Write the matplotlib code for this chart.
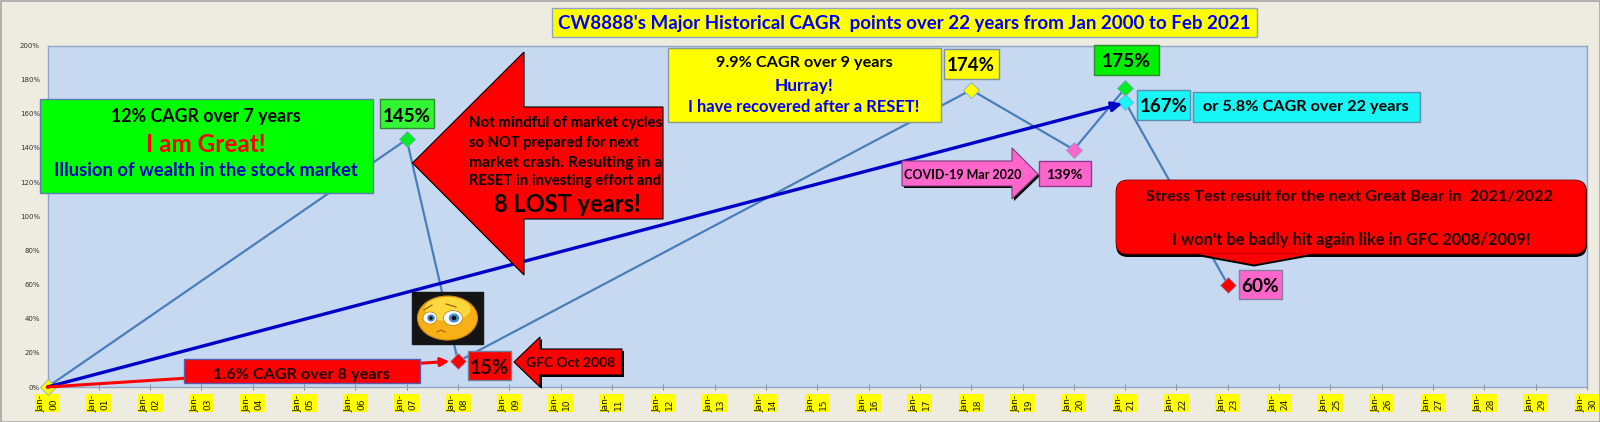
import matplotlib
matplotlib.use("Agg")
import matplotlib.pyplot as plt
from matplotlib.patches import Rectangle, Polygon, FancyBboxPatch, Ellipse
from matplotlib.textpath import TextPath
from matplotlib.font_manager import FontProperties

# ---- data ----
point_years = [0, 7, 8, 18, 20, 21, 21, 23]
point_values = [0, 145, 15, 174, 139, 175, 167, 60]
point_colors = ["#FFFF00", "#00EE22", "#FF0000", "#FFFF00", "#FF66CC", "#00EE22", "#17F5F5", "#FF0000"]
year_ticks = list(range(0, 31))
value_ticks = list(range(0, 201, 20))
title_text = "CW8888's Major Historical CAGR  points over 22 years from Jan 2000 to Feb 2021"

BG = "#EEECE1"
PLOT = "#C6D9F1"
W, H = 1600, 422
L, R, T, B = 47.5, 1587, 45.5, 387

fig = plt.figure(figsize=(W / 100, H / 100), dpi=100, facecolor=BG)
ax = fig.add_axes([L / W, 1 - B / H, (R - L) / W, (B - T) / H], facecolor=PLOT)
ax.set_xlim(0, 30)
ax.set_ylim(0, 200)
for s in ax.spines.values():
    s.set_color("#8FA6C8")
    s.set_linewidth(1.0)
ax.set_yticks(value_ticks)
ax.set_yticklabels([f"{v}%" for v in value_ticks], fontsize=5, color="#333333")
ax.tick_params(axis="y", length=0, pad=5.5)
ax.set_xticks(year_ticks)
ax.set_xticklabels([f"Jan-\n{y:02d}" for y in year_ticks], rotation=90, fontsize=6.5,
                   linespacing=1.45, color="#111111", ha="center", va="top",
                   multialignment="center")
ax.tick_params(axis="x", length=5, direction="inout", color="#8A8A8A", width=0.7, pad=3.5)

ax.plot(point_years, point_values, color="#4A7EBB", lw=1.6, zorder=3)
for xv, yv, c in zip(point_years, point_values, point_colors):
    ax.plot([xv], [yv], marker="D", ms=8.5, mfc=c, mec="#7FA0C8", mew=0.5, ls="none",
            clip_on=False, zorder=4)

ax.annotate("", xy=(point_years[6] - 0.05, point_values[6] - 1), xytext=(point_years[0], point_values[0]),
            arrowprops=dict(arrowstyle="-|>,head_length=0.6,head_width=0.28", color="#0000C8", lw=2.4,
                            shrinkA=0, shrinkB=0), zorder=5, annotation_clip=False)
ax.annotate("", xy=(point_years[2] - 0.17, point_values[2]), xytext=(point_years[0], point_values[0]),
            arrowprops=dict(arrowstyle="-|>,head_length=0.5,head_width=0.25", color="#FF0000", lw=2.2,
                            shrinkA=0, shrinkB=0), zorder=5, annotation_clip=False)

# yellow plates behind the x tick labels
for y in year_ticks:
    px = ax.transData.transform((y, 0))[0]
    fig.add_artist(Rectangle((px - 12.5, H - 412), 25, 18, fc="#FFFF00", ec="none",
                             transform=None, zorder=-1))

# overlay in pixel units for the drawn shapes and callouts
ov = fig.add_axes([0, 0, 1, 1], facecolor="none")
ov.set_xlim(0, W)
ov.set_ylim(H, 0)
ov.axis("off")
ov.add_patch(Rectangle((0.5, 0.5), W - 1, H - 1, fill=False, ec="#A6A6A6", lw=1.2))


def fit(text, width, weight):
    fp = FontProperties(family="Lato", weight=weight)
    bb = TextPath((0, 0), text, size=10, prop=fp).get_extents()
    return 10 * width / bb.width * 72 / 100


def label(xc, yc, text, width, color="black", weight="bold", ha="center", z=8):
    ov.text(xc, yc, text, ha=ha, va="center_baseline", color=color, family="Lato", weight=weight,
            fontsize=fit(text, width, weight), zorder=z)


def box(x0, x1, y0, y1, fc, ec="#6F8FB5", lw=1.0, z=6):
    ov.add_patch(Rectangle((x0, y0), x1 - x0, y1 - y0, fc=fc, ec=ec, lw=lw, zorder=z))


def poly(pts, fc, ec="black", lw=0.8, shadow=False, z=6):
    if shadow:
        ov.add_patch(Polygon([(x + 2, y + 2) for x, y in pts], fc="black", ec="none", zorder=z))
    ov.add_patch(Polygon(pts, fc=fc, ec=ec, lw=lw, zorder=z))


# title
box(552, 1257, 8, 37, "#FFFF00", ec="#8FA6C8")
label(904, 22.5, title_text, 693, "#0000FF")

# green panel
box(40, 372.5, 99, 193, "#00FF00", ec="#5B7FB0")
label(206, 115, "12% CAGR over 7 years", 187)
label(206, 142, "I am Great!", 116, "#FF0000")
label(206, 169, "Illusion of wealth in the stock market", 301, "#0000C0")
box(380, 433.5, 99, 128, "#33F533", ec="#2E8B2E")
label(407, 114.5, "145%", 46)

# big red arrow
poly([(412.5, 163), (524, 52), (524, 107), (663, 107), (663, 219), (524, 219), (524, 275)], "#FF0000")
label(469, 122, "Not mindful of market cycles", 192, ha="left")
label(469, 141, "so NOT prepared for next", 169, ha="left")
label(469, 161, "market crash. Resulting in a", 190, ha="left")
label(469, 180, "RESET in investing effort and", 190, ha="left")
label(567, 203, "8 LOST years!", 144)

# yellow panel
box(668, 941, 48, 122, "#FFFF00", ec="#8C9A8C")
label(804, 62, "9.9% CAGR over 9 years", 176)
label(804, 85, "Hurray!", 56, "#0000FF")
label(804, 106, "I have recovered after a RESET!", 230, "#0000FF")
box(944, 999, 49, 79, "#FFFF00", ec="#7F8FA0")
label(971, 64, "174%", 46)
box(1094, 1159, 45, 75, "#00F000", ec="#2E8B2E")
label(1126, 60, "175%", 47)

# covid arrow
poly([(902, 161), (1012, 161), (1012, 148), (1038, 174), (1012, 199), (1012, 186), (902, 186)],
     "#FF66CC", ec="#7A3A7A", shadow=True)
label(963, 174, "COVID-19 Mar 2020", 117)
box(1039, 1091, 161, 186, "#FF66CC", ec="#8A3A8A")
label(1064, 174, "139%", 35)

# cyan
box(1137, 1190, 90, 120, "#17F5F5", ec="#5A8FB0")
label(1163.5, 105, "167%", 46)
box(1193, 1420, 92, 122, "#17F5F5", ec="#5A8FB0")
label(1306, 106, "or 5.8% CAGR over 22 years", 205)

# callout
ov.add_patch(FancyBboxPatch((1128, 192), 447, 53, boxstyle="round,pad=12,rounding_size=12",
                            fc="black", ec="none", zorder=6))
ov.add_patch(FancyBboxPatch((1126, 190), 450, 54, boxstyle="round,pad=10,rounding_size=12",
                            fc="#FF0000", ec="#8B0000", lw=0.6, zorder=6))
poly([(1197, 254), (1254, 265), (1312, 254)], "#FF0000", ec="none", z=6)
ov.plot([1197, 1254, 1312], [255, 265.5, 255], color="black", lw=1.4, zorder=6)
label(1350, 195, "Stress Test result for the next Great Bear in  2021/2022", 408, "#200000")
label(1351, 239, "I won't be badly hit again like in GFC 2008/2009!", 359, "#200000")
box(1239, 1282, 270, 299, "#FF66CC", ec="#7F7FA0")
label(1260, 285, "60%", 36)

# bottom-left notes
box(184, 420, 359, 383, "#FF0000", ec="#5B5BB0")
label(301, 373, "1.6% CAGR over 8 years", 176, "#200000")
box(468, 511, 351, 380, "#FF0000", ec="#6F7FA0")
label(489, 366, "15%", 37, "#200000")
poly([(514, 362), (540, 337), (540, 349), (622, 349), (622, 375), (540, 375), (540, 387)],
     "#FF0000", ec="black", shadow=True)
label(571, 362, "GFC Oct 2008", 88, "#200000")

# sad face
box(412, 483, 292, 344, "#141414", ec="#141414", z=6)
ov.add_patch(Ellipse((447.5, 318), 60, 44, fc="#F7B016", ec="#D08A10", lw=0.8, zorder=7))
ov.add_patch(Ellipse((447.5, 309), 46, 24, fc="#FFD93B", ec="none", zorder=7))
for cx, w_, h_ in [(430, 14, 12), (453, 19, 15)]:
    ov.add_patch(Ellipse((cx, 318), w_, h_, fc="white", ec="#B07A20", lw=0.5, zorder=8))
    ov.add_patch(Ellipse((cx + 1, 318), w_ * 0.55, h_ * 0.6, fc="#3F8FD0", ec="none", zorder=8))
    ov.add_patch(Ellipse((cx + 1, 318), w_ * 0.25, h_ * 0.3, fc="#111111", ec="none", zorder=8))
ov.plot([437, 441, 445], [332, 330, 332], color="#A0601A", lw=0.8, zorder=8)
ov.plot([424, 432], [310, 305], color="#A0601A", lw=0.9, zorder=8)
ov.plot([446, 456], [304, 307], color="#A0601A", lw=0.9, zorder=8)

fig.savefig("out.png", dpi=100, facecolor=BG)
